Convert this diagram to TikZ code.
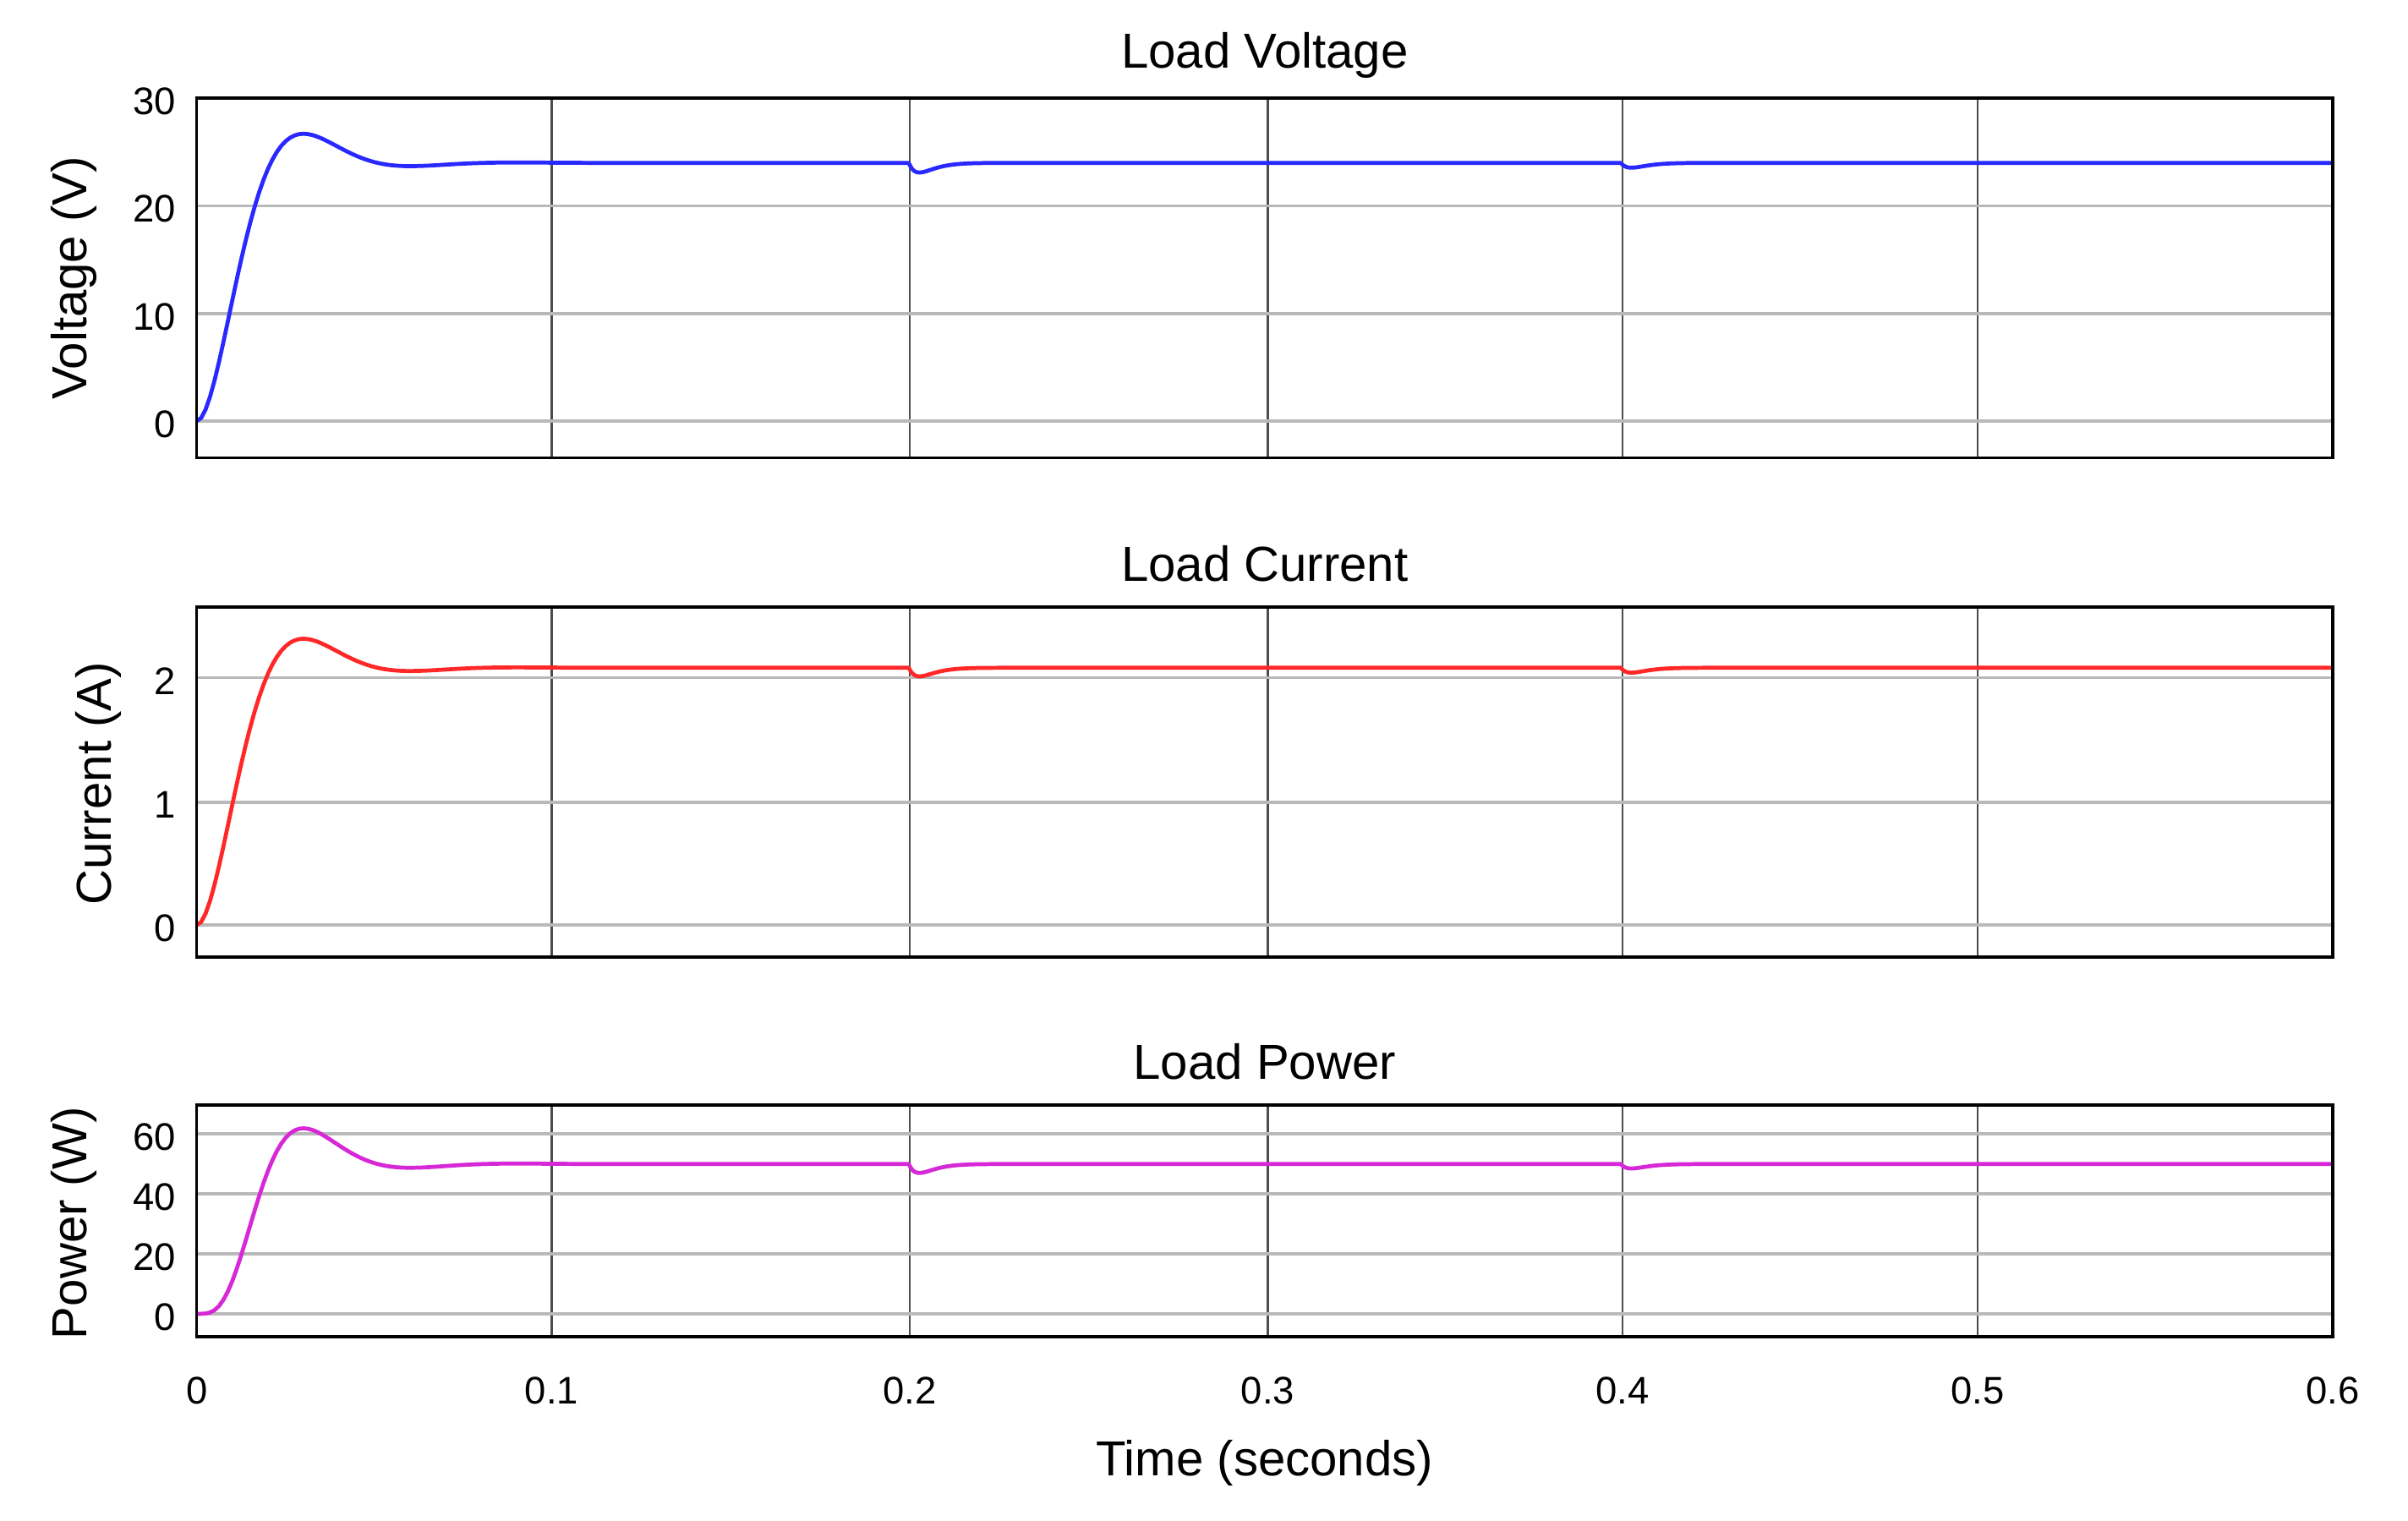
\documentclass[tikz,border=0pt]{standalone}
\usepackage{fontspec}
\setmainfont{Liberation Sans}
\begin{document}
\begin{tikzpicture}[x=1pt,y=-1pt,
  declare function={
    sr(\t)=1-exp(-72.7*\t)*(cos(deg(104.7*\t))+0.694*sin(deg(104.7*\t)));
    dp(\t,\a)=\a*((\t)/0.003)*exp(1-(\t)/0.003);
    X(\t)=128+\t*2316.67;
  },
  hgrid/.style={draw=gray!55,line width=2pt},
  vgrid/.style={draw=black!70,line width=1.2pt},
  frame/.style={draw=black,line width=2pt},
  tick/.style={font=\fontsize{25}{25}\selectfont,anchor=east},
  ttl/.style={font=\fontsize{32}{32}\selectfont},
  ylab/.style={font=\fontsize{32}{32}\selectfont,rotate=90},
  trace/.style={line width=2.6pt,line join=round}]
\useasboundingbox[fill=white] (0,0) rectangle (1567,989.3);
% ---------- grids
\foreach \top/\bot in {64/298,395/623,719/870}{
  \foreach \gx in {359,592,825,1056,1287}
    \draw[vgrid] (\gx,\top) -- (\gx,\bot);
}
\foreach \gy in {64,134,204,274} \draw[hgrid] (128,\gy) -- (1518,\gy);
\foreach \gy in {441,522,602} \draw[hgrid] (128,\gy) -- (1518,\gy);
\foreach \gy in {738,777,816,855} \draw[hgrid] (128,\gy) -- (1518,\gy);
% ---------- traces
\definecolor{cv}{RGB}{40,40,255}
\definecolor{ci}{RGB}{255,40,40}
\definecolor{cp}{RGB}{215,40,215}
\draw[trace,cv] plot[domain=0:0.2,samples=160] ({X(\x)},{274-7*24*sr(\x)})
  -- plot[domain=0.2:0.23,samples=40] ({X(\x)},{274-7*(24-dp(\x-0.2,0.9))})
  -- plot[domain=0.4:0.43,samples=40] ({X(\x)},{274-7*(24-dp(\x-0.4,0.45))})
  -- ({X(0.6)},{274-7*24});
\draw[trace,ci] plot[domain=0:0.2,samples=160] ({X(\x)},{602-80.5*2.08*sr(\x)})
  -- plot[domain=0.2:0.23,samples=40] ({X(\x)},{602-80.5*(2.08-dp(\x-0.2,0.07))})
  -- plot[domain=0.4:0.43,samples=40] ({X(\x)},{602-80.5*(2.08-dp(\x-0.4,0.04))})
  -- ({X(0.6)},{602-80.5*2.08});
\draw[trace,cp] plot[domain=0:0.2,samples=160] ({X(\x)},{855-1.95*50*sr(\x)*sr(\x)})
  -- plot[domain=0.2:0.23,samples=40] ({X(\x)},{855-1.95*(50-dp(\x-0.2,3))})
  -- plot[domain=0.4:0.43,samples=40] ({X(\x)},{855-1.95*(50-dp(\x-0.4,1.5))})
  -- ({X(0.6)},{855-1.95*50});
% frames
\draw[frame] (128,64) rectangle (1518,298);
\draw[frame] (128,395) rectangle (1518,623);
\draw[frame] (128,719) rectangle (1518,870);
% ---------- tick labels
\foreach \v/\gy in {30/66,20/136,10/206,0/276} \node[tick] (ta\v) at (118,\gy) {\v};
\foreach \v/\gy in {2/443,1/524,0/604} \node[tick] (tb\v) at (118,\gy) {\v};
\foreach \v/\gy in {60/740,40/779,20/818,0/857} \node[tick] (tc\v) at (118,\gy) {\v};
\foreach \v/\gx in {0/128,0.1/359,0.2/592,0.3/825,0.4/1056,0.5/1287,0.6/1518}
  \node[font=\fontsize{25}{25}\selectfont] (tx\gx) at (\gx,905) {\v};
% ---------- titles and labels
\node[ttl] (t1) at (823,36) {Load Voltage};
\node[ttl] (t2) at (823,367) {Load Current};
\node[ttl] (t3) at (823,691) {Load Power};
\node[ttl] (xl) at (823,952) {Time (seconds)};
\node[ylab] (y1) at (48,181) {Voltage (V)};
\node[ylab] (y2) at (64,510) {Current (A)};
\node[ylab] (y3) at (48,796) {Power (W)};
\end{tikzpicture}
\end{document}
